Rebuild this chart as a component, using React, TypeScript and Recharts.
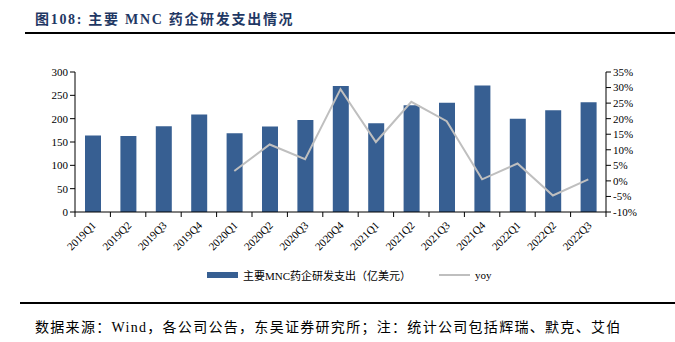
import { ComposedChart, Bar, Line, XAxis, YAxis } from 'recharts'

const quarters = [
  '2019Q1', '2019Q2', '2019Q3', '2019Q4',
  '2020Q1', '2020Q2', '2020Q3', '2020Q4',
  '2021Q1', '2021Q2', '2021Q3', '2021Q4',
  '2022Q1', '2022Q2', '2022Q3',
]
// 主要MNC药企研发支出（亿美元）
const spend = [164, 163, 184, 209, 169, 183, 197, 270, 190, 229, 234, 271, 200, 218, 235]
// yoy, %
const yoy = [null, null, null, null, 3.2, 11.7, 7.0, 29.5, 12.5, 25.4, 19.2, 0.5, 5.6, -4.7, 0.5]

const leftTicks = [0, 50, 100, 150, 200, 250, 300]
const rightTicks = [-10, -5, 0, 5, 10, 15, 20, 25, 30, 35]

const BAR = '#375F92'
const LINE = '#BFBFBF'
const SERIF = '"Liberation Serif", "Times New Roman", "Noto Sans CJK SC", serif'

const data = quarters.map((q, i) => ({ q, spend: spend[i], yoy: yoy[i] }))

function QuarterTick(props: any) {
  const { x, y, payload, index } = props
  const half = payload.offset ?? 0
  const last = index === quarters.length - 1
  return (
    <g>
      <line x1={x - half} x2={x - half} y1={y - 8} y2={y - 3} stroke="#000" />
      {last && <line x1={x + half} x2={x + half} y1={y - 8} y2={y - 3} stroke="#000" />}
      <text
        x={x + 4}
        y={y + 6}
        transform={`rotate(-45 ${x + 4} ${y + 6})`}
        textAnchor="end"
        fontSize={11}
        fontFamily={SERIF}
        fill="#000"
      >
        {payload.value}
      </text>
    </g>
  )
}

export default function App() {
  return (
    <div style={{ position: 'absolute', left: 0, top: 0, width: 675, height: 342, background: '#fff', fontFamily: SERIF }}>
      <style>{'body{margin:0}'}</style>
      <div style={{ position: 'absolute', left: 35, top: 8, fontSize: 14, letterSpacing: 1.7, fontWeight: 'bold', color: '#1F3864', whiteSpace: 'nowrap' }}>
        图108:&nbsp;主要 MNC 药企研发支出情况
      </div>
      <div style={{ position: 'absolute', left: 25, right: 0, top: 32, height: 2, background: '#000' }} />
      <ComposedChart
        width={675}
        height={342}
        data={data}
        margin={{ top: 72, right: 19, bottom: 80, left: 35 }}
        barCategoryGap={0}
      >
        <XAxis
          dataKey="q"
          xAxisId="x"
          tickLine={false}
          axisLine={{ stroke: '#000' }}
          tick={<QuarterTick />}
          interval={0}
          height={50}
        />
        <YAxis
          yAxisId="l"
          width={40}
          domain={[0, 300]}
          ticks={leftTicks}
          axisLine={{ stroke: '#000' }}
          tickLine={{ stroke: '#000' }}
          tickSize={5}
          tick={{ fontSize: 11, fill: '#000', fontFamily: SERIF }}
          interval={0}
        />
        <YAxis
          yAxisId="r"
          orientation="right"
          width={50}
          domain={[-10, 35]}
          ticks={rightTicks}
          tickFormatter={(v: number) => `${v}%`}
          axisLine={{ stroke: '#000' }}
          tickLine={{ stroke: '#000' }}
          tickSize={5}
          tick={{ fontSize: 11, fill: '#000', fontFamily: SERIF }}
          interval={0}
        />
        <Bar xAxisId="x" yAxisId="l" dataKey="spend" fill={BAR} barSize={16} isAnimationActive={false} />
        <Line
          xAxisId="x"
          yAxisId="r"
          dataKey="yoy"
          stroke={LINE}
          strokeWidth={2}
          dot={false}
          activeDot={false}
          isAnimationActive={false}
        />
      </ComposedChart>
      <div style={{ position: 'absolute', left: 207, top: 267, display: 'flex', alignItems: 'center', fontSize: 11, color: '#000', whiteSpace: 'nowrap' }}>
        <span style={{ display: 'inline-block', width: 31, height: 6, background: BAR, marginRight: 5 }} />
        <span>主要MNC药企研发支出（亿美元）</span>
        <span style={{ display: 'inline-block', width: 31, height: 2, background: LINE, marginLeft: 28, marginRight: 5 }} />
        <span>yoy</span>
      </div>
      <div style={{ position: 'absolute', left: 20, right: 0, top: 302, height: 2, background: '#000' }} />
      <div style={{ position: 'absolute', left: 35, top: 316, fontSize: 14, letterSpacing: 1.3, color: '#000', whiteSpace: 'nowrap' }}>
        数据来源：Wind，各公司公告，东吴证券研究所；注：统计公司包括辉瑞、默克、艾伯
      </div>
    </div>
  )
}
